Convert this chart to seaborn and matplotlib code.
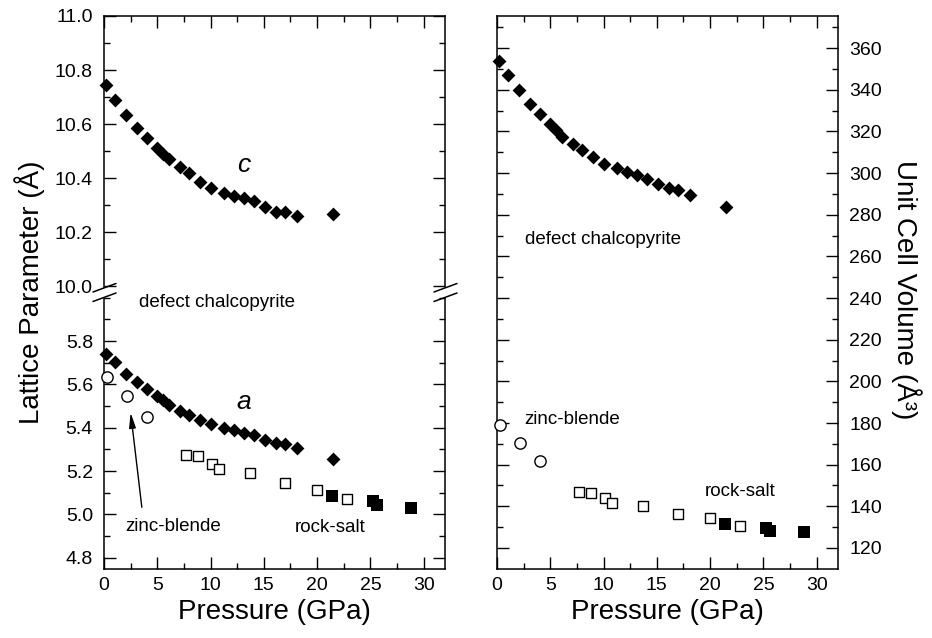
import matplotlib
matplotlib.use("Agg")
import matplotlib.pyplot as plt
import seaborn as sns
from matplotlib.ticker import MultipleLocator
from matplotlib.lines import Line2D

# ---------------- data ----------------
# defect chalcopyrite (filled diamonds)
dc_pressure = [0.19, 1.05, 2.05, 3.05, 4.05, 5.0, 5.5, 6.1, 7.15, 7.98, 9.0,
               10.03, 11.24, 12.18, 13.17, 14.06, 15.08, 16.1, 17.03, 18.13, 21.45]
dc_c = [10.744, 10.689, 10.633, 10.586, 10.547, 10.51, 10.489, 10.469, 10.44,
        10.417, 10.386, 10.362, 10.346, 10.334, 10.327, 10.315, 10.294, 10.275,
        10.275, 10.259, 10.267]
dc_a = [5.740, 5.704, 5.647, 5.612, 5.578, 5.547, 5.527, 5.507, 5.476, 5.457,
        5.434, 5.416, 5.399, 5.388, 5.377, 5.365, 5.342, 5.331, 5.323, 5.308, 5.257]
dc_vol = [353.9, 347.0, 339.8, 333.1, 328.3, 323.5, 320.6, 317.4, 313.8, 311.0,
          307.5, 304.2, 302.3, 300.6, 299.0, 297.1, 294.6, 292.7, 291.8, 289.4, 283.8]

# zinc-blende (open circles)
zb_pressure = [0.3, 2.15, 4.07]
zb_a = [5.635, 5.545, 5.45]
zb_vol = [179.0, 170.5, 161.8]

# rock-salt (open squares)
rs_open_pressure = [7.74, 8.8, 10.1, 10.77, 13.72, 17.0, 20.0, 22.78]
rs_open_a = [5.275, 5.269, 5.234, 5.211, 5.192, 5.146, 5.115, 5.072]
rs_open_vol = [147.0, 146.2, 143.8, 141.7, 140.1, 136.1, 134.2, 130.7]

# rock-salt (filled squares)
rs_fill_pressure = [21.43, 25.28, 25.62, 28.82]
rs_fill_a = [5.084, 5.061, 5.045, 5.03]
rs_fill_vol = [131.5, 129.4, 128.3, 127.5]

x_ticks = [0, 5, 10, 15, 20, 25, 30]
c_ticks = [10.0, 10.2, 10.4, 10.6, 10.8, 11.0]
a_ticks = [4.8, 5.0, 5.2, 5.4, 5.6, 5.8]
v_ticks = [120, 140, 160, 180, 200, 220, 240, 260, 280, 300, 320, 340, 360]

# ---------------- style ----------------
sns.set_style("ticks", rc={"axes.edgecolor": "black", "text.color": "black",
                           "xtick.color": "black", "ytick.color": "black",
                           "axes.labelcolor": "black"})
plt.rcParams["font.family"] = ["Liberation Sans", "DejaVu Sans"]

W, H = 932, 638
fig = plt.figure(figsize=(W / 100, H / 100), dpi=100)


def fr(x0, y0, x1, y1):
    """pixel box -> figure fraction rect"""
    return [x0 / W, 1 - y1 / H, (x1 - x0) / W, (y1 - y0) / H]


ax_c = fig.add_axes(fr(104, 16, 445, 287.4))
ax_a = fig.add_axes(fr(104, 297.8, 445, 568.6))
ax_v = fig.add_axes(fr(497, 16, 838, 568.6))

TICK_FS = 14
LABEL_FS = 20
NOTE_FS = 13.5


def style(ax):
    ax.tick_params(which="both", direction="in", top=True, right=True, left=True,
                   bottom=True, width=1.0, labelsize=TICK_FS)
    ax.tick_params(axis="y", which="both", pad=8)
    ax.tick_params(axis="x", which="both", pad=6)
    ax.tick_params(which="major", length=8.5)
    ax.tick_params(which="minor", length=4.5)
    for s in ax.spines.values():
        s.set_linewidth(1.1)
        s.set_color("black")
    ax.set_xlim(0, 32)
    ax.xaxis.set_major_locator(MultipleLocator(5))
    ax.xaxis.set_minor_locator(MultipleLocator(2.5))
    ax.set_xlabel("")
    ax.set_ylabel("")


dia = dict(marker="D", s=50, color="black", linewidth=0, legend=False,
           clip_on=False, zorder=4)
circ = dict(marker="o", s=66, facecolor="white", edgecolor="black",
            linewidth=1.0, legend=False, clip_on=False, zorder=4)
sq_open = dict(marker="s", s=52, facecolor="white", edgecolor="black",
               linewidth=1.0, legend=False, clip_on=False, zorder=4)
sq_fill = dict(marker="s", s=74, color="black", linewidth=0, legend=False,
               clip_on=False, zorder=4)

# ---- upper-left: c ----
sns.scatterplot(x=dc_pressure, y=dc_c, ax=ax_c, **dia)
style(ax_c)
ax_c.set_ylim(9.995, 11.0)
ax_c.set_yticks(c_ticks)
ax_c.set_yticklabels([f"{v:.1f}" for v in c_ticks])
ax_c.yaxis.set_minor_locator(MultipleLocator(0.1))
ax_c.spines["bottom"].set_visible(False)
ax_c.tick_params(which="both", bottom=False, labelbottom=False)
ax_c.text(13.07, 10.448, "c", fontsize=19, style="italic", ha="center", va="center")

# ---- lower-left: a ----
sns.scatterplot(x=dc_pressure, y=dc_a, ax=ax_a, **dia)
sns.scatterplot(x=zb_pressure, y=zb_a, ax=ax_a, **circ)
sns.scatterplot(x=rs_open_pressure, y=rs_open_a, ax=ax_a, **sq_open)
sns.scatterplot(x=rs_fill_pressure, y=rs_fill_a, ax=ax_a, **sq_fill)
style(ax_a)
ax_a.set_ylim(4.75, 6.0)
ax_a.set_yticks(a_ticks)
ax_a.set_yticklabels([f"{v:.1f}" for v in a_ticks])
ax_a.yaxis.set_minor_locator(MultipleLocator(0.1))
ax_a.set_xticks(x_ticks)
ax_a.set_xticklabels([str(v) for v in x_ticks])
ax_a.spines["top"].set_visible(False)
ax_a.tick_params(which="both", top=False)
ax_a.text(13.07, 5.52, "a", fontsize=19, style="italic", ha="center", va="center")
ax_a.text(3.3, 5.977, "defect chalcopyrite", fontsize=NOTE_FS, ha="left", va="center")
ax_a.text(2.0, 4.944, "zinc-blende", fontsize=NOTE_FS, ha="left", va="center")
ax_a.text(17.9, 4.938, "rock-salt", fontsize=NOTE_FS, ha="left", va="center")
ax_a.annotate("", xy=(2.5, 5.47), xytext=(3.55, 5.033),
              arrowprops=dict(arrowstyle="-|>,head_length=0.9,head_width=0.2",
                              color="black", lw=1.0, shrinkA=0, shrinkB=0))

# ---- right: volume ----
sns.scatterplot(x=dc_pressure, y=dc_vol, ax=ax_v, **dia)
sns.scatterplot(x=zb_pressure, y=zb_vol, ax=ax_v, **circ)
sns.scatterplot(x=rs_open_pressure, y=rs_open_vol, ax=ax_v, **sq_open)
sns.scatterplot(x=rs_fill_pressure, y=rs_fill_vol, ax=ax_v, **sq_fill)
style(ax_v)
ax_v.set_ylim(110.1, 375.4)
ax_v.set_yticks(v_ticks)
ax_v.set_yticklabels([str(v) for v in v_ticks])
ax_v.yaxis.set_minor_locator(MultipleLocator(10))
ax_v.set_xticks(x_ticks)
ax_v.set_xticklabels([str(v) for v in x_ticks])
ax_v.tick_params(which="both", labelleft=False, labelright=True)
ax_v.text(2.6, 268.2, "defect chalcopyrite", fontsize=NOTE_FS, ha="left", va="center")
ax_v.text(2.6, 181.8, "zinc-blende", fontsize=NOTE_FS, ha="left", va="center")
ax_v.text(19.5, 147.0, "rock-salt", fontsize=NOTE_FS, ha="left", va="center")

# ---- axis-break marks on the left panel ----
for sx in (104, 445):
    for y0, y1 in ((292.0, 283.5), (301.5, 293.0)):
        fig.add_artist(Line2D([(sx - 11) / W, (sx + 12) / W],
                              [1 - y0 / H, 1 - y1 / H],
                              transform=fig.transFigure, color="black", lw=1.1))

# ---- axis labels ----
fig.text(30 / W, 1 - 292 / H, "Lattice Parameter (Å)", rotation=90,
         fontsize=LABEL_FS, ha="center", va="center")
fig.text(906 / W, 1 - 290 / H, "Unit Cell Volume (Å³)", rotation=270,
         fontsize=LABEL_FS, ha="center", va="center")
fig.text(274.5 / W, 1 - 612 / H, "Pressure (GPa)", fontsize=LABEL_FS,
         ha="center", va="center")
fig.text(667.5 / W, 1 - 612 / H, "Pressure (GPa)", fontsize=LABEL_FS,
         ha="center", va="center")

fig.savefig("out.png", dpi=100)
